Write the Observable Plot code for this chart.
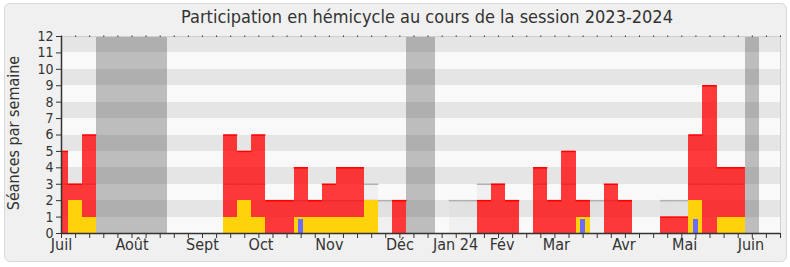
<!DOCTYPE html>
<html>
<head>
<meta charset="utf-8">
<script src="https://cdn.jsdelivr.net/npm/d3@7"></script>
<script src="https://cdn.jsdelivr.net/npm/@observablehq/plot@0.6"></script>
<style>
  html, body { margin: 0; padding: 0; background: #ffffff; }
  #wrap { position: relative; width: 790px; height: 267px; overflow: hidden; font-family: "DejaVu Sans Condensed", "DejaVu Sans", sans-serif; }
  #box { position: absolute; left: 4px; top: 3px; width: 781px; height: 257px; border: 1px solid #d9d9d9; border-radius: 6px; background: #f0f0f0; }
  #title { position: absolute; left: 0; top: 6px; width: 790px; padding-left: 64px; box-sizing: border-box; text-align: center; font-size: 18px; line-height: 22px; color: #333; }
  #chart { position: absolute; left: 0; top: 28px; }
</style>
</head>
<body>
<div id="wrap">
  <div id="box"></div>
  <div id="title">Participation en hémicycle au cours de la session 2023-2024</div>
  <div id="chart"></div>
</div>
<script>
// Week index 0 = first week of July 2023
const weeks = d3.range(50);
const presences     = [5,3,6,0,0,0,0,0,0,0, 0,0,6,5,6,2,2,4,2,3, 4,4,2,0,2,0,0,0,0,0, 2,3,2,0,4,2,5,2,0,3, 2,0,0,1,1,6,9,4,4,0];
const interventions = [0,2,1,0,0,0,0,0,0,0, 0,0,1,2,1,0,0,1,1,1, 1,1,2,0,0,0,0,0,0,0, 0,0,0,0,0,0,0,1,0,0, 0,0,0,0,0,2,0,1,1,0];
const questions     = [0,0,0,0,0,0,0,0,0,0, 0,0,0,0,0,0,0,1,0,0, 0,0,0,0,0,0,0,0,0,0, 0,0,0,0,0,0,0,1,0,0, 0,0,0,0,0,1,0,0,0,0];
const mediane       = [3,3,3,0,0,0,0,0,0,0, 0,0,3,3,3,2,2,2,2,2, 2,2,3,2,2,0,0,0,2,2, 3,3,2,0,3,2,3,2,2,2, 2,0,0,2,2,3,3,3,3,0];
const vacancesDebut = [2.5, 24.5, 48.5];
const vacancesFin   = [7.5, 26.5, 49.5];
const monthPos    = [0, 5, 10, 14.15, 19, 24, 27.95, 31.25, 35.1, 39.9, 44.2, 48.9];
const monthLabels = ["Juil", "Août", "Sept", "Oct", "Nov", "Déc", "Jan 24", "Fév", "Mar", "Avr", "Mai", "Juin"];
const yTicks = d3.range(0, 13);
const weekTicks = d3.range(0, 52);
const yLabel = "Séances par semaine";

const rows = weeks.map((w, i) => ({w, p: presences[i], it: interventions[i], q: questions[i], m: mediane[i]}));
const vac = vacancesDebut.map((d, i) => ({a: d, b: vacancesFin[i]}));
const stripes = yTicks.filter(k => k % 2 === 1 && k < 12);

const x1 = d => d.w - 0.5, x2 = d => d.w + 0.5;
const crisp = {shapeRendering: "crispEdges"};

const chart = Plot.plot({
  width: 790,
  height: 239,
  marginLeft: 61,
  marginRight: 10,
  marginTop: 8,
  marginBottom: 34,
  style: {background: "transparent", fontFamily: "'DejaVu Sans Condensed', 'DejaVu Sans', sans-serif", fontSize: "16px", color: "#333", overflow: "visible"},
  x: {domain: [0, 51], axis: null},
  y: {domain: [0, 12], axis: null},
  marks: [
    Plot.frame({fill: "#f9f9f9", stroke: null}),
    Plot.rect(stripes, {x1: 0, x2: 51, y1: d => d, y2: d => d + 1, fill: "#e5e5e5", ...crisp}),
    Plot.rect(rows.filter(d => d.m > 0), {x1, x2, y1: 0, y2: "m", fill: "#d6d6d6", fillOpacity: 0.25, clip: true, ...crisp}),
    Plot.ruleY(rows.filter(d => d.m > 0), {x1, x2, y: "m", stroke: "#b0b0b0", strokeWidth: 1.5, clip: true}),
    Plot.rect(rows.filter(d => d.p > 0), {x1, x2, y1: 0, y2: "p", fill: "#ff0000", fillOpacity: 0.77, clip: true, ...crisp}),
    Plot.ruleY(rows.filter(d => d.p > 0), {x1, x2, y: "p", stroke: "#ff0000", strokeWidth: 1.5, clip: true}),
    Plot.rect(rows.filter(d => d.it > 0), {x1, x2, y1: 0, y2: "it", fill: "#ffd20a", clip: true, ...crisp}),
    Plot.rect(rows.filter(d => d.q > 0), {x1, x2, y1: 0, y2: "q", fill: "#6b6bff", insetLeft: 4.5, insetRight: 4.5, insetTop: 2.4, ...crisp}),
    Plot.rect(vac, {x1: "a", x2: "b", y1: 0, y2: 12, fill: "#333", fillOpacity: 0.3, ...crisp}),
    Plot.frame({stroke: "#cfcfcf", strokeWidth: 1}),
    Plot.axisX(weekTicks, {anchor: "bottom", tickSize: 5, tickFormat: () => "", stroke: "#333"}),
    Plot.axisX(weekTicks, {anchor: "top", tickSize: 1.5, tickFormat: () => "", stroke: "#333"}),
    Plot.axisX(monthPos, {anchor: "bottom", tickSize: 0, tickPadding: 5, tickFormat: d => monthLabels[monthPos.indexOf(d)], fontSize: 16, fill: "#333"}),
    Plot.axisY(yTicks, {anchor: "left", tickSize: 5, tickPadding: 3, fontSize: 14, fill: "#333", stroke: "#333"}),
    Plot.ruleX([0], {stroke: "#333", strokeWidth: 1.5}),
    Plot.ruleY([0], {stroke: "#333", strokeWidth: 1.5}),
    Plot.text([yLabel], {frameAnchor: "left", dx: -48, dy: -2, rotate: -90, textAnchor: "middle", lineAnchor: "middle", fontSize: 16, fill: "#333"})
  ]
});
document.getElementById("chart").appendChild(chart);
</script>
</body>
</html>
